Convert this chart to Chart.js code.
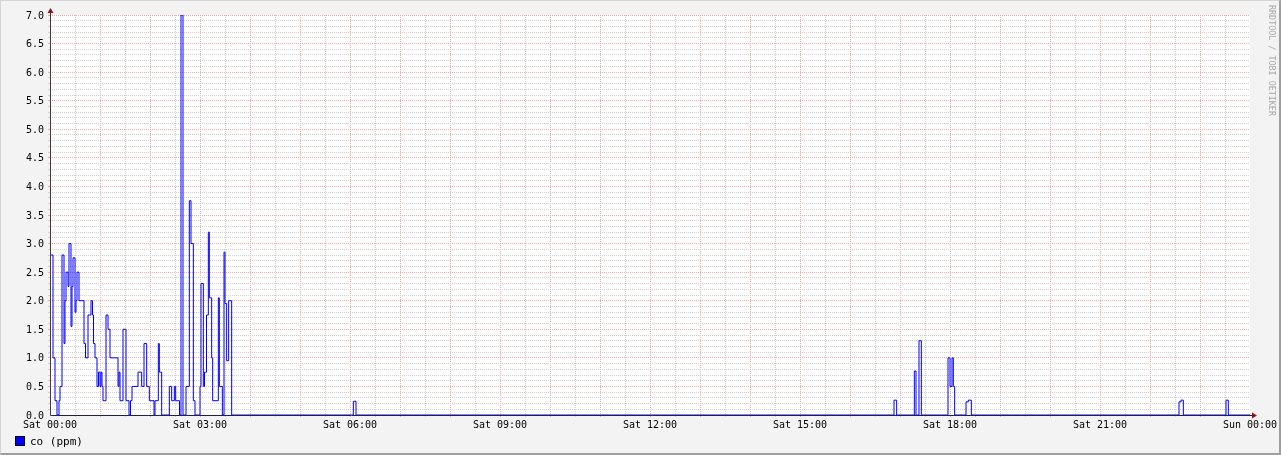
<!DOCTYPE html>
<html><head><meta charset="utf-8">
<script src="https://cdn.jsdelivr.net/npm/chart.js@4.4.1/dist/chart.umd.min.js"></script>
<style>
html,body{margin:0;padding:0;background:#f3f3f3;}
#wrap{position:relative;width:1281px;height:455px;overflow:hidden;background:#f3f3f3;}
#frame{position:absolute;left:0;top:0;width:1281px;height:455px;box-sizing:border-box;border-top:1px solid #d4d4d4;border-left:1px solid #d4d4d4;border-right:2px solid #9e9e9e;border-bottom:2px solid #9e9e9e;pointer-events:none;}
canvas{position:absolute;left:0;top:0;}
#sw{position:absolute;left:15px;top:436px;width:8px;height:8px;background:#0000ff;border:1px solid #000;}
#legtxt{position:absolute;left:30px;top:435px;font:11px 'DejaVu Sans Mono',monospace;line-height:13px;color:#000;white-space:nowrap;}
#wm{position:absolute;left:1267px;top:5px;writing-mode:vertical-rl;font:8.4px 'DejaVu Sans Mono',monospace;line-height:10px;color:#a8a8a8;white-space:nowrap;}
</style></head>
<body>
<div id="wrap">
<canvas id="c" width="1281" height="455"></canvas>
<div id="sw"></div><div id="legtxt">co (ppm)</div>
<div id="wm">RRDTOOL / TOBI OETIKER</div>
<div id="frame"></div>
</div>
<script>
// minutes since Sat 00:00 at which each value starts (step function)
const minutes = [0,3.6,6,8.4,10.8,12,14.4,16.8,18,19.2,21.6,22.8,25.2,26.4,27.6,30,31.2,32.4,34.8,40.8,42.6,45.6,49.2,51,52.2,54,56.4,58.2,60,61.2,62.4,63.6,67.2,69.6,72,81.6,82.8,84,87.6,91.2,94.8,96.6,98.4,105.6,110,112.8,116,119.2,124.8,126,130,131.2,134,143.2,146,149.2,150.8,155.4,157.2,159.6,163.2,167.2,169.2,172,174,180,181.2,184,185.4,187.8,190,191.2,194,195.2,202,203.2,206.8,208.8,210,212,214.4,218,364,367.2,1012.8,1016,1037.2,1039.2,1042.8,1045.6,1077.6,1080,1082.4,1084,1085.6,1099.2,1102,1105.6,1354.8,1357.2,1360,1411.2,1414,1440];
const coValues = [2.8,1.0,0.25,0,0.25,0.5,2.8,1.25,2.0,2.5,2.25,3.0,1.55,2.25,2.75,1.8,2.0,2.5,2.0,1.25,1.0,1.75,2.0,1.75,1.25,1.0,0.5,0.75,0.5,0.75,0.5,0.25,1.75,1.5,1.0,0.5,0.75,0.25,1.5,0.25,0,0.25,0.5,0.75,0.5,1.25,0.5,0.25,0,0.25,1.25,0.75,0,0.5,0.25,0.5,0.25,0,7.0,0,0.5,3.75,3.0,0.25,0,0.5,2.3,0.5,0.75,1.75,3.2,2.05,1.0,0.25,2.05,0.5,0,2.85,1.95,0.95,2.0,0,0.24,0,0.26,0,0.77,0,1.3,0,1.0,0.5,1.0,0.5,0,0.23,0.26,0,0.23,0.26,0,0.26,0,0];
const xTickLabels = ['Sat 00:00','Sat 03:00','Sat 06:00','Sat 09:00','Sat 12:00','Sat 15:00','Sat 18:00','Sat 21:00','Sun 00:00'];
const yTickLabels = ['0.0','0.5','1.0','1.5','2.0','2.5','3.0','3.5','4.0','4.5','5.0','5.5','6.0','6.5','7.0'];
const seriesLabel = 'co (ppm)';

const MINOR = '#d0d0d0';
const MAJOR = '#f0aaaa';
const FONT = {family:"'DejaVu Sans Mono', monospace", size:10};

const points = minutes.map((t,i)=>({x:t,y:coValues[i]}));

const bgPlugin = {
  id:'bg',
  beforeDraw(chart){
    const a = chart.chartArea, ctx = chart.ctx;
    ctx.save(); ctx.fillStyle = '#ffffff';
    ctx.fillRect(a.left, a.top, a.right-a.left, a.bottom-a.top);
    ctx.restore();
  }
};
const axisPlugin = {
  id:'axes',
  afterDatasetsDraw(chart){
    const ctx = chart.ctx, xs = chart.scales.x, ys = chart.scales.y;
    const x0 = Math.round(xs.getPixelForValue(0)) + 0.5;
    const xe = Math.round(xs.getPixelForValue(1440));
    const y0 = Math.round(ys.getPixelForValue(0)) + 0.5;
    const yt = Math.round(ys.getPixelForValue(7));
    ctx.save();
    ctx.lineWidth = 1;
    ctx.strokeStyle = '#20204a';
    ctx.beginPath(); ctx.moveTo(x0, y0); ctx.lineTo(xe + 4, y0); ctx.stroke();
    ctx.strokeStyle = '#4a3838';
    ctx.beginPath(); ctx.moveTo(x0, y0); ctx.lineTo(x0, yt - 4); ctx.stroke();
    ctx.fillStyle = '#8a1414';
    ctx.beginPath();
    ctx.moveTo(x0 - 3, yt - 2); ctx.lineTo(x0 + 3, yt - 2); ctx.lineTo(x0, yt - 7); ctx.closePath(); ctx.fill();
    ctx.beginPath();
    ctx.moveTo(xe + 2, y0 - 3); ctx.lineTo(xe + 2, y0 + 3); ctx.lineTo(xe + 7, y0); ctx.closePath(); ctx.fill();
    ctx.restore();
  }
};

new Chart(document.getElementById('c'), {
  type:'line',
  data:{datasets:[{
    label:seriesLabel, data:points, borderColor:'#0000ff', backgroundColor:'#0000ff',
    borderWidth:1, pointRadius:0, fill:false, stepped:'before', tension:0
  }]},
  options:{
    responsive:false, animation:false, devicePixelRatio:1,
    layout:{padding:{left:0,right:31,top:15,bottom:0}},
    plugins:{legend:{display:false}, tooltip:{enabled:false}},
    scales:{
      x:{
        type:'linear', min:0, max:1440,
        afterFit(s){ s.height = 40; },
        ticks:{stepSize:30, autoSkip:false, maxRotation:0, minRotation:0, padding:2, color:'#000', font:FONT,
          callback(v){ return (v % 180 === 0) ? xTickLabels[v/180] : ''; }},
        grid:{
          color(c){ const v = c.tick ? c.tick.value : null; if (v===null || v===0 || v===1440) return 'rgba(0,0,0,0)'; return v % 60 === 0 ? MAJOR : MINOR; },
          lineWidth:1, tickLength:2, drawTicks:true
        },
        border:{display:false, dash:[1,1]}
      },
      y:{
        type:'linear', min:0, max:7,
        afterFit(s){ s.width = 50; },
        ticks:{stepSize:0.1, autoSkip:false, padding:4, labelOffset:1, color:'#000', font:FONT,
          callback(v){ const k = Math.round(v*10); return (k % 5 === 0) ? yTickLabels[k/5] : ''; }},
        grid:{
          color(c){ const v = c.tick ? c.tick.value : null; if (v===null || Math.round(v*10)===0) return 'rgba(0,0,0,0)'; return Math.round(v*10) % 5 === 0 ? MAJOR : MINOR; },
          lineWidth:1, tickLength:2, drawTicks:true
        },
        border:{display:false, dash:[1,1]}
      }
    }
  },
  plugins:[bgPlugin, axisPlugin]
});
</script>
</body></html>
